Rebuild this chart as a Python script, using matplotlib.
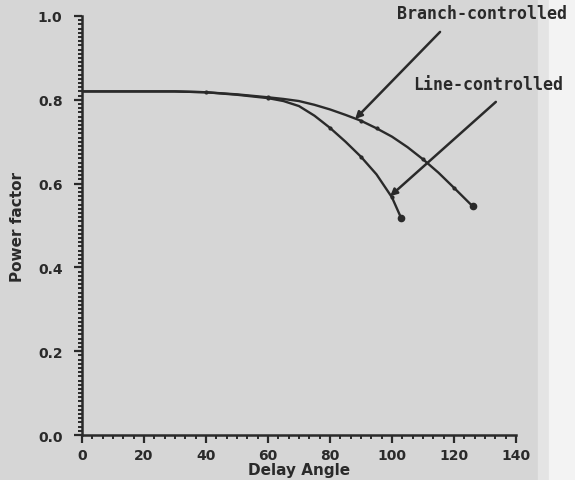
import numpy as np
import matplotlib.pyplot as plt
from matplotlib.ticker import MultipleLocator

# courbes
line_angle = [0, 10, 20, 30, 40, 50, 60, 65, 70, 75, 80, 85, 90, 95, 100, 103]
line_pf = [0.82, 0.82, 0.82, 0.82, 0.818, 0.812, 0.804, 0.797, 0.785, 0.762, 0.733,
           0.70, 0.664, 0.622, 0.567, 0.517]
branch_angle = [0, 10, 20, 30, 40, 50, 60, 65, 70, 75, 80, 85, 90, 95, 100, 105, 110,
                115, 120, 126]
branch_pf = [0.82, 0.82, 0.82, 0.82, 0.818, 0.813, 0.806, 0.802, 0.797, 0.788, 0.777,
             0.764, 0.75, 0.732, 0.712, 0.687, 0.658, 0.626, 0.59, 0.546]
dots_line = [40, 60, 80, 90, 100]
dots_branch = [60, 90, 95, 110, 120]

xticks = [0, 20, 40, 60, 80, 100, 120, 140]
yticks = [0.0, 0.2, 0.4, 0.6, 0.8, 1.0]

ink = '#2a2a2a'
fig = plt.figure(figsize=(5.75, 4.81), dpi=100, facecolor='#d6d6d6')
# bande claire a droite (scan)
fig.patches.append(plt.Rectangle((0.935, 0), 0.02, 1, transform=fig.transFigure,
                                 color='#e4e4e4', zorder=-5))
fig.patches.append(plt.Rectangle((0.955, 0), 0.045, 1, transform=fig.transFigure,
                                 color='#f3f3f3', zorder=-5))

ax = fig.add_axes([82/575, 1-436/481, 434/575, 419/481])
ax.set_facecolor('none')

ax.plot(line_angle, line_pf, color=ink, lw=1.7)
ax.plot(dots_line, [line_pf[line_angle.index(a)] for a in dots_line], 'o', color=ink, ms=2)
ax.plot(line_angle[-1], line_pf[-1], 'o', color=ink, ms=4.5)
ax.plot(branch_angle, branch_pf, color=ink, lw=1.7)
ax.plot(dots_branch, [branch_pf[branch_angle.index(a)] for a in dots_branch], 'o',
        color=ink, ms=2)
ax.plot(branch_angle[-1], branch_pf[-1], 'o', color=ink, ms=4.5)

ax.set_xlim(0, 140)
ax.set_ylim(0, 1.0)
ax.set_xticks(xticks)
ax.set_yticks(yticks)
ax.set_xticklabels([str(v) for v in xticks], fontweight='bold', fontsize=10)
ax.set_yticklabels(['%.1f' % v for v in yticks], fontweight='bold', fontsize=10)
ax.xaxis.set_minor_locator(MultipleLocator(20/6))
ax.yaxis.set_minor_locator(MultipleLocator(0.01))
ax.tick_params(which='major', length=6, width=1.6, color=ink, labelcolor=ink, pad=3)
ax.tick_params(axis='y', which='major', pad=8)
ax.tick_params(which='minor', length=3, width=1.4, color=ink)
for s in ['top', 'right']:
    ax.spines[s].set_visible(False)
for s in ['left', 'bottom']:
    ax.spines[s].set_linewidth(1.8)
    ax.spines[s].set_color(ink)

ax.set_xlabel('Delay Angle', fontweight='bold', fontsize=11, color=ink, labelpad=0)
ax.set_ylabel('Power factor', fontweight='bold', fontsize=11, color=ink, labelpad=9)

ax.text(101.6, 1.007, 'Branch-controlled', fontsize=12, fontweight='bold',
        family='DejaVu Sans Mono', color=ink, va='center', clip_on=False)
ax.text(106.8, 0.838, 'Line-controlled', fontsize=12, fontweight='bold',
        family='DejaVu Sans Mono', color=ink, va='center', clip_on=False)
ax.annotate('', xy=(88.1, 0.754), xytext=(115.5, 0.962), annotation_clip=False,
            arrowprops=dict(arrowstyle='-|>', color=ink, lw=1.8, shrinkA=0, shrinkB=0))
ax.annotate('', xy=(99.4, 0.570), xytext=(133.5, 0.795), annotation_clip=False,
            arrowprops=dict(arrowstyle='-|>', color=ink, lw=1.8, shrinkA=0, shrinkB=0))

plt.savefig('out.png', dpi=100, facecolor=fig.get_facecolor())
